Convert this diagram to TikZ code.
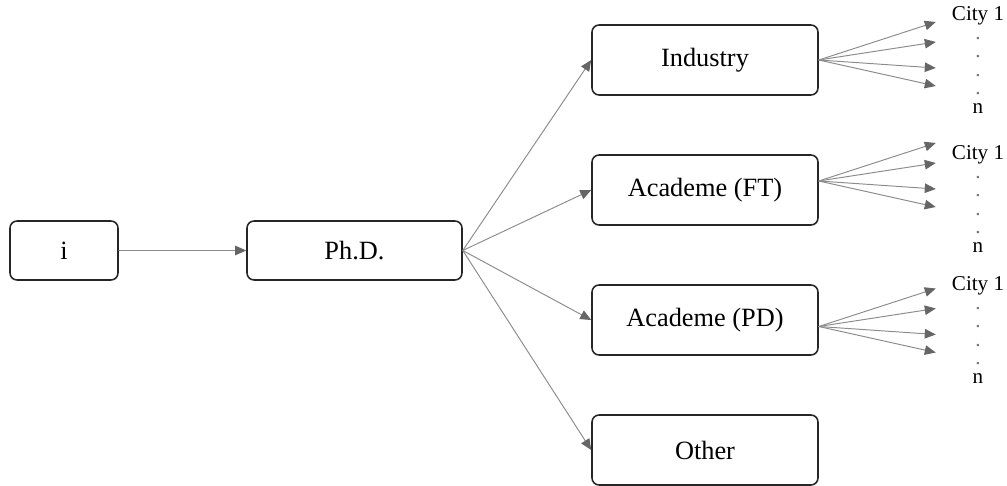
\documentclass[tikz,border=0pt]{standalone}
\usepackage{fontspec}
\setmainfont{Liberation Serif}
\usetikzlibrary{positioning,arrows.meta,calc}

\begin{document}
\begin{tikzpicture}[
    x=0.02cm, y=-0.02cm,
    box/.style = {
        rectangle,
        draw=black!85,
        line width=0.9pt,
        rounded corners=4pt,
        minimum width=4.52cm,
        minimum height=1.4cm,
        align=center,
        font=\fontsize{15}{18}\selectfont,
        inner sep=0pt
    },
    firstbox/.style = {box, minimum width=2.16cm, minimum height=1.18cm},
    degreebox/.style = {box, minimum width=4.3cm, minimum height=1.18cm},
    arrow/.style = {-{Triangle[length=2.2mm, width=1.9mm, color=black!60]}, line width=0.55pt, draw=black!45},
    citylabel/.style = {align=center, font=\fontsize{12}{10.6}\selectfont, inner sep=0pt},
    line cap=round, line join=round
]

\useasboundingbox (0,0) rectangle (1007,486);

% Define spacing
\def\rowgap{130}
\def\citydots{City 1\\\textcolor{black!55}{.}\\\textcolor{black!55}{.}\\\textcolor{black!55}{.}\\\textcolor{black!55}{.}\\n}

% Left: start and degree
\node[firstbox] (start) at (64,250.5) {i};
\node[degreebox] (phd) at (354.5,250.5) {Ph.D.};

% Right column: career outcomes
\node[box] (industry) at (705,60) {Industry};
\node[box] (acadft) at (705,60+\rowgap) {Academe (FT)};
\node[box] (acadpd) at (705,60+2*\rowgap) {Academe (PD)};
\node[box] (other) at (705,60+3*\rowgap) {Other};

% Arrows - start to degree, degree to outcomes
\draw[arrow] (start.east) -- (phd.west);
\foreach \dest in {industry, acadft, acadpd, other}
    \draw[arrow] (phd.east) -- (\dest.west);

% City fans
\foreach \src/\dy in {industry/0, acadft/-9, acadpd/6.5} {
    \coordinate (\src-hub) at ($(\src.east)+(0,\dy)$);
    \foreach \ty [count=\k] in {-38,-18,8,26} {
        \coordinate (\src-city\k) at ($(\src-hub)+(117,\ty)$);
        \draw[arrow] (\src-hub) -- (\src-city\k);
    }
}

% City labels
\node[citylabel] (industry-cities) at (978,60) {\citydots};
\node[citylabel] (acadft-cities) at (978,199) {\citydots};
\node[citylabel] (acadpd-cities) at (978,330) {\citydots};

\end{tikzpicture}
\end{document}
